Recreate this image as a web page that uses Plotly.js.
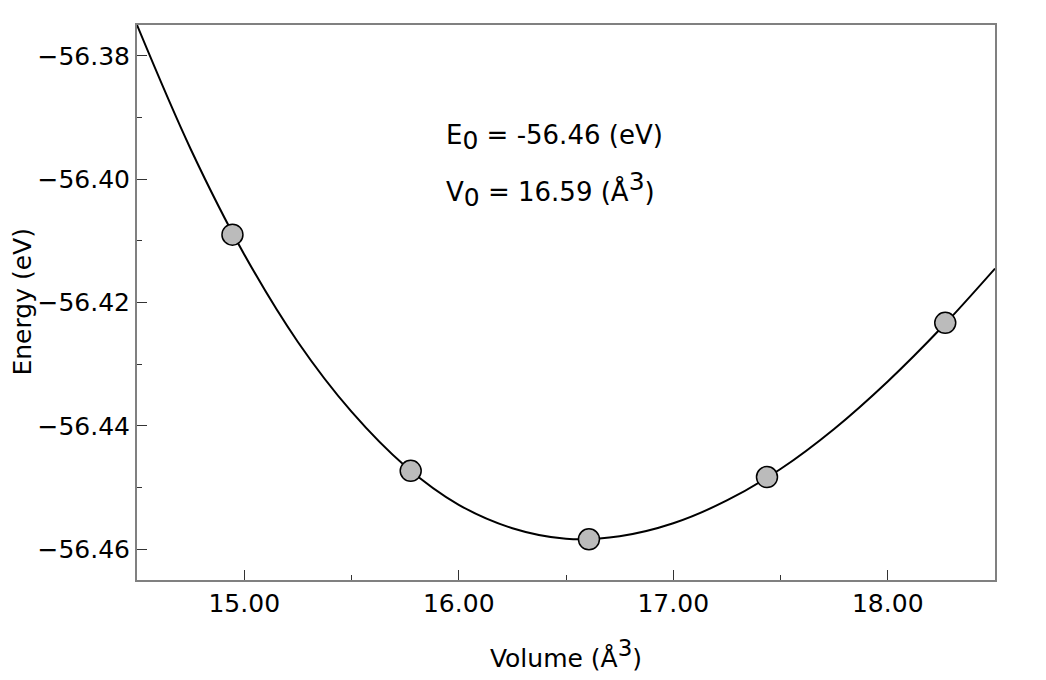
<!DOCTYPE html>
<html>
<head>
<meta charset="utf-8">
<script src="https://cdn.plot.ly/plotly-3.0.1.min.js"></script>
<style>
  html, body { margin: 0; padding: 0; background: #fff; }
  #myDiv { width: 1046px; height: 680px; }
</style>
</head>
<body>
<div id="myDiv"></div>
<script>
// computed points (volume in A^3, energy in eV)
var volumes = [14.945, 15.776, 16.607, 17.437, 18.268];
var energies = [-56.4090, -56.4473, -56.4584, -56.4483, -56.4233];

// fitted curve
var fitVolume = [14.50, 14.75, 15.00, 15.25, 15.50, 15.75, 16.00, 16.25, 16.50,
                 16.75, 17.00, 17.25, 17.50, 17.75, 18.00, 18.25, 18.50];
var fitEnergy = [-56.3750, -56.3951, -56.4122, -56.4264, -56.4377, -56.4465, -56.4528, -56.4566, -56.4583,
                 -56.4579, -56.4558, -56.4521, -56.4470, -56.4405, -56.4328, -56.4241, -56.4145];

var xTicks = [15, 16, 17, 18];
var yTicks = [-56.46, -56.44, -56.42, -56.40, -56.38];

var E0 = "-56.46";
var V0 = "16.59";

var fit = {
    x: fitVolume,
    y: fitEnergy,
    mode: 'lines',
    line: {color: 'black', width: 2, shape: 'spline', smoothing: 1},
    hoverinfo: 'skip'
};

var points = {
    x: volumes,
    y: energies,
    mode: 'markers',
    marker: {size: 21, color: '#bbbbbb', line: {color: 'black', width: 1.5}}
};

var family = 'DejaVu Sans, Verdana, sans-serif';
var tickFont = {family: family, size: 25, color: 'black'};
var titleFont = {family: family, size: 25, color: 'black'};
var noteFont = {family: family, size: 26, color: 'black'};

var layout = {
    width: 1046,
    height: 680,
    margin: {l: 137, r: 51, t: 25, b: 100},
    showlegend: false,
    paper_bgcolor: 'white',
    plot_bgcolor: 'white',
    xaxis: {
        range: [14.5, 18.5],
        tickvals: xTicks,
        tickformat: '.2f',
        tickfont: tickFont,
        ticks: 'inside',
        ticklen: 10,
        tickcolor: '#333',
        tickwidth: 1,
        showgrid: false,
        zeroline: false,
        showline: true,
        linecolor: '#808080',
        linewidth: 2,
        mirror: true,
        minor: {dtick: 0.5, ticks: 'inside', ticklen: 5, tickcolor: '#333'},
        title: {text: 'Volume (Å<sup><span style="font-size:23px">3</span></sup>)', font: titleFont, standoff: 32}
    },
    yaxis: {
        range: [-56.465, -56.375],
        tickvals: yTicks,
        tickformat: '.2f',
        tickfont: tickFont,
        ticks: 'inside',
        ticklen: 10,
        tickcolor: '#333',
        tickwidth: 1,
        showgrid: false,
        zeroline: false,
        showline: true,
        linecolor: '#808080',
        linewidth: 2,
        mirror: true,
        minor: {dtick: 0.01, ticks: 'inside', ticklen: 5, tickcolor: '#333'}
    },
    annotations: [
        {
            // y axis title, placed by hand so it sits where the original has it
            xref: 'paper', yref: 'paper',
            x: -0.134, y: 0.5,
            xanchor: 'center', yanchor: 'middle',
            textangle: -90,
            text: 'Energy (eV)',
            showarrow: false,
            font: titleFont
        },
        {
            xref: 'paper', yref: 'paper',
            x: 0.358, y: 0.797,
            xanchor: 'left', yanchor: 'middle',
            text: 'E<sub><span style="font-size:25px">0</span></sub> = ' + E0 + ' (eV)',
            showarrow: false,
            font: noteFont
        },
        {
            xref: 'paper', yref: 'paper',
            x: 0.358, y: 0.703,
            xanchor: 'left', yanchor: 'middle',
            text: 'V<sub><span style="font-size:25px">0</span></sub> = ' + V0 + ' (Å<sup><span style="font-size:25px">3</span></sup>)',
            showarrow: false,
            font: noteFont
        }
    ]
};

Plotly.newPlot('myDiv', [fit, points], layout, {displayModeBar: false, staticPlot: true});
</script>
</body>
</html>
